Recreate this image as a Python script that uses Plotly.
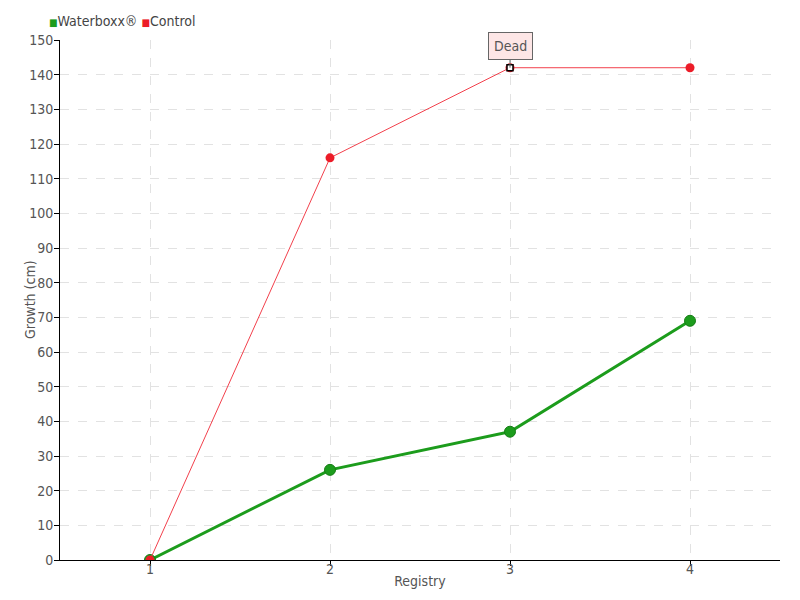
import plotly.graph_objects as go

registry = [1, 2, 3, 4]
waterboxx = [0, 26, 37, 69]
control = [0, 116, 142, 142]
dead_registry = [3]
dead_value = [142]
y_ticks = list(range(0, 151, 10))

FONT = "DejaVu Sans Condensed"
GREEN = "#1c9c1c"
RED = "#ec1c28"
OFF = 8  # page body margin offset

fig = go.Figure()
fig.add_trace(go.Scatter(
    x=registry, y=waterboxx, name="Waterboxx®", mode="lines+markers", showlegend=False,
    line=dict(color=GREEN, width=3),
    marker=dict(color=GREEN, size=11, line=dict(color="#157d15", width=1), symbol="circle"),
))
fig.add_trace(go.Scatter(
    x=registry, y=control, name="Control", mode="lines+markers", showlegend=False,
    line=dict(color="#f2404c", width=1),
    marker=dict(color=RED, size=9, symbol="circle", line=dict(width=0)),
))
fig.add_trace(go.Scatter(
    x=dead_registry, y=dead_value, name="Dead", mode="markers", showlegend=False,
    marker=dict(color="#ffffff", size=6, symbol="square", line=dict(color="#000000", width=1.5)),
))

fig.add_annotation(
    x=3, y=142, text="Dead", showarrow=True, arrowhead=0, arrowwidth=1, arrowcolor="#666",
    ax=0, ay=-22, bgcolor="#fde6e6", bordercolor="#666", borderwidth=1, borderpad=5,
    font=dict(family=FONT, size=14, color="#555"),
)
# legend
fig.add_annotation(
    xref="paper", yref="paper", x=-0.018, y=1.0, yshift=19, xanchor="left", yanchor="middle",
    showarrow=False, align="left",
    text=("<span style='color:%s;font-size:10px'>■</span>Waterboxx® "
          "<span style='color:%s;font-size:10px'>■</span>Control") % (GREEN, RED),
    font=dict(family=FONT, size=14, color="#444"),
)
# y axis title
fig.add_annotation(
    xref="paper", yref="paper", x=0, xshift=-30, y=0.5, xanchor="center", yanchor="middle",
    showarrow=False, textangle=-90, text="Growth (cm)",
    font=dict(family=FONT, size=14, color="#555"),
)

fig.update_layout(
    width=800, height=600,
    margin=dict(l=60 - OFF, r=20 + OFF, t=40 - OFF, b=40 + OFF, autoexpand=False),
    paper_bgcolor="white", plot_bgcolor="white",
    font=dict(family=FONT, size=13, color="#555"),
    showlegend=False,
    xaxis=dict(
        range=[0.5, 4.5], tickvals=registry, ticktext=[str(r) for r in registry],
        showgrid=True, gridcolor="#e2e2e2", griddash="dash", gridwidth=1,
        showline=True, linecolor="black", linewidth=1, ticks="outside", tickcolor="black", ticklen=5,
        zeroline=False, automargin=True, ticklabelstandoff=-9,
        title=dict(text="Registry", standoff=0, font=dict(family=FONT, size=14, color="#555")),
        tickfont=dict(family=FONT, size=14, color="#555"),
    ),
    yaxis=dict(
        range=[0, 150], tickvals=y_ticks,
        showgrid=True, gridcolor="#e2e2e2", griddash="dash", gridwidth=1,
        showline=True, linecolor="black", linewidth=1, ticks="outside", tickcolor="black", ticklen=5,
        zeroline=False, automargin=True, ticklabelstandoff=-2,
        tickfont=dict(family=FONT, size=14, color="#555"),
    ),
)
fig.write_html("out.html")
